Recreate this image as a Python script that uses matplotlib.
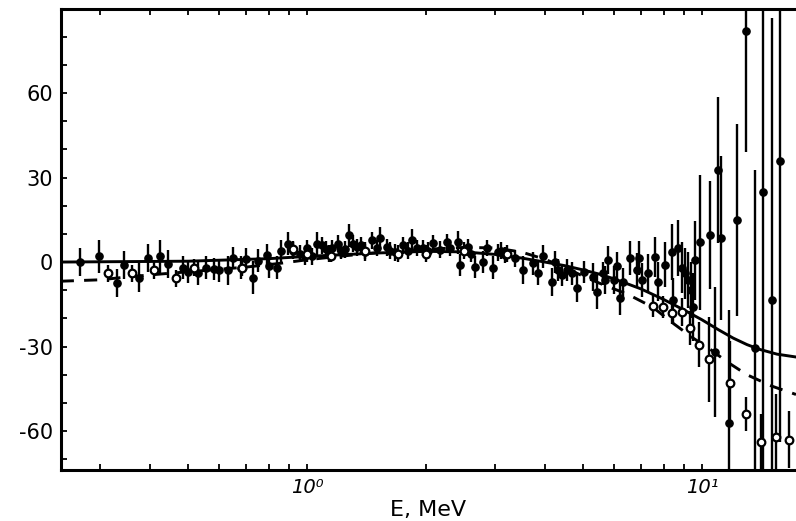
import matplotlib
matplotlib.use("Agg")
import matplotlib.pyplot as plt
from matplotlib.ticker import MultipleLocator, FixedLocator, LogLocator, NullFormatter

# filled points: energy (MeV), value, error
e_full = [0.266, 0.297, 0.33, 0.345, 0.375, 0.395, 0.425, 0.445, 0.485, 0.50,
          0.53, 0.555, 0.58, 0.60, 0.63, 0.65, 0.68, 0.70, 0.73, 0.75,
          0.79, 0.80, 0.84, 0.86, 0.895, 0.96, 0.99, 1.03, 1.06, 1.09,
          1.12, 1.16, 1.20, 1.25, 1.28, 1.31, 1.34, 1.40, 1.46, 1.53,
          1.59, 1.67, 1.75, 1.84, 1.90, 1.97, 2.08, 2.17, 2.26, 2.41,
          2.44, 2.55, 2.66, 2.79, 2.85, 2.96, 3.05, 3.17, 3.37, 3.52,
          3.73, 3.84, 3.96, 4.17, 4.24, 4.32, 4.42, 4.55, 4.68, 4.82,
          5.04, 5.3, 5.42, 5.6, 5.67, 5.77, 6.0, 6.1, 6.2, 6.3,
          6.56, 6.83, 6.93, 7.05, 7.3, 7.6, 7.75, 8.05, 8.4, 8.43,
          8.7, 8.9, 9.05, 9.2, 9.4, 9.5, 9.6, 9.9, 10.5, 10.8,
          11.0, 11.2, 11.7, 12.3, 12.9, 13.6, 14.3, 15.0, 15.8,
          0.92, 1.0, 1.14, 1.22, 1.37, 1.5, 1.62, 1.8, 2.02, 2.3, 2.6, 3.1]
v_full = [0, 2, -7.5, -1, -5.5, 1.5, 2, -0.7, -2, -3.5,
          -4, -2, -2.5, -3, -3, 1.5, -2, 1, -5.5, 0.5,
          2.5, -1.5, -2, 4, 6.5, 3, 2, 2, 6.5, 6,
          4.5, 5, 6.5, 4.5, 9.5, 6.5, 5.3, 3.5, 7.8, 8.5,
          5.3, 3.5, 6, 7.8, 5, 5, 6.7, 4.3, 7, 7,
          -1, 5.3, -1.8, 0, 5, -2, 3.5, 2.5, 1.4, -2.8,
          -0.5, -4, 2, -7, 0, -2.8, -4.6, -2.8, -4, -9.3,
          -3.5, -5.3, -10.6, -4, -6.4, 0.7, -6.4, -1.4, -12.8, -7,
          1.4, -2.8, 1.4, -6.4, -4, 1.8, -7, -1, 3.5, -13.5,
          5, -2, -4, -6.4, -10, -16, 0.7, 7, 9.6, -32,
          32.6, 8.5, -57, 15, 82, -30.5, 25, -13.5, 36,
          4, 5, 3, 4, 6, 5, 4, 4, 4, 5, 3, 4]
err_full = [5, 6, 5, 5, 5, 5, 6, 5, 4, 4,
            4, 4, 4, 4, 5, 4, 4, 4, 6, 4,
            4, 4, 4, 4, 4, 3, 3, 3, 4, 3,
            3, 3, 3, 3, 4, 3, 3, 3, 3, 4,
            3, 3, 3, 4, 3, 3, 3, 3, 3, 4,
            4, 3, 4, 4, 3, 4, 3, 3, 3, 5,
            4, 4, 4, 5, 4, 4, 4, 4, 4, 5,
            4, 5, 6, 4, 5, 5, 5, 5, 6, 5,
            6, 6, 6, 6, 7, 7, 7, 8, 10, 8,
            10, 9, 9, 10, 10, 12, 14, 24, 19, 23,
            26, 29, 40, 34, 43, 63, 100, 100, 100,
            3, 3, 3, 3, 3, 3, 3, 3, 3, 3, 3, 3]

# open points
e_open = [0.314, 0.36, 0.41, 0.466, 0.518, 0.685, 0.92, 1.0, 1.15, 1.4,
          1.7, 2.0, 2.5, 3.2, 7.5, 7.95, 8.4, 8.9, 9.3, 9.8,
          10.4, 11.8, 12.9, 14.1, 15.4, 16.6]
v_open = [-4, -4, -3, -5.7, -2, -2, 4.5, 3, 2, 4,
          3, 3, 4, 3, -15.6, -16, -18, -17.7, -23.4, -29.4,
          -34.5, -43, -54, -64, -62, -63]
err_open = [3, 3, 3, 3, 3, 3, 3, 3, 2, 3,
            3, 3, 3, 3, 4, 4, 4, 5, 6, 8,
            15, 15, 6, 10, 15, 10]

# calculated curves
e_solid = [0.238, 0.5, 0.8, 1.0, 1.5, 2.0, 2.5, 3.0, 3.5, 4.0, 4.5, 5.0,
           5.5, 6.0, 7.0, 8.0, 9.0, 10.0, 11.0, 12.0, 13.0, 14.0, 15.5, 17.3]
v_solid = [0, 0.3, 1.2, 2.0, 3.2, 3.8, 3.6, 2.7, 1.4, 0, -1.3, -2.8,
           -4.3, -6, -9.5, -13.3, -17, -20.5, -24, -27, -29.3, -31, -32.7, -33.7]
e_dash = [0.238, 0.3, 0.35, 0.43, 0.55, 0.7, 0.85, 1.0, 1.2, 1.5, 2.0, 2.5,
          3.0, 3.5, 4.0, 4.5, 5.0, 5.5, 6.5, 7.5, 8.5, 9.5, 10.5, 11.6, 13.0, 15.0, 17.3]
v_dash = [-6.8, -6.3, -5.3, -4.2, -3, -1.8, -0.5, 0.8, 2, 3.3, 4.5, 5.2,
          5, 3.5, 1, -2, -5, -7.5, -11.5, -16, -22, -27, -31, -35.5, -40, -44, -47]

plt.rcParams['font.family'] = ['DejaVu Sans']

fig = plt.figure(figsize=(7.96, 5.21), dpi=100)
ax = fig.add_axes([61 / 796, 51 / 521, 735 / 796, 461 / 521])

ax.plot(e_solid, v_solid, color='black', lw=2.1)
ax.plot(e_dash, v_dash, color='black', lw=2.1, dashes=(4.5, 3.5))

ax.errorbar(e_full, v_full, yerr=err_full, fmt='o', color='black', ms=5.2,
            elinewidth=1.7, capsize=0)
ax.errorbar(e_open, v_open, yerr=err_open, fmt='o', color='black', mfc='white',
            mec='black', mew=1.6, ms=5.5, elinewidth=1.7, capsize=0)

ax.set_xscale('log')
ax.set_xlim(0.2383, 17.3)
ax.set_ylim(-73.8, 89.8)

ax.xaxis.set_major_locator(FixedLocator([1, 10]))
ax.xaxis.set_minor_locator(LogLocator(base=10, subs=range(2, 10)))
ax.xaxis.set_minor_formatter(NullFormatter())
ax.set_xticklabels(['10⁰', '10¹'], fontstyle='italic', fontsize=14)

ax.yaxis.set_major_locator(FixedLocator([-60, -30, 0, 30, 60]))
ax.yaxis.set_minor_locator(MultipleLocator(10))
ax.set_yticklabels(['-60', '-30', '0', '30', '60'], fontsize=15)

ax.tick_params(which='both', direction='in', top=True, right=False,
               length=4, width=1.3, pad=6)
for s in ['left', 'bottom', 'top']:
    ax.spines[s].set_linewidth(2.2)
ax.spines['right'].set_visible(False)

ax.set_xlabel('E, MeV', fontsize=16, labelpad=2)

fig.savefig('out.png', dpi=100)
